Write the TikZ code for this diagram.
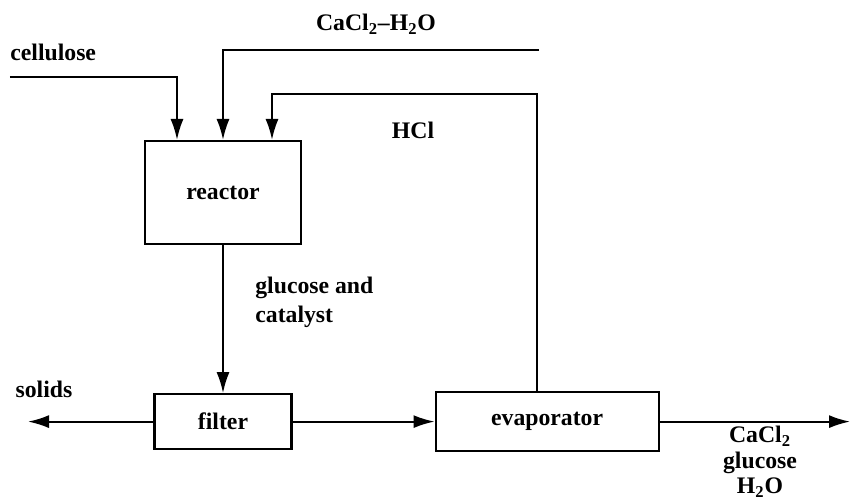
\documentclass[tikz,border=0pt]{standalone}
\usepackage{fontspec}
\setmainfont{Liberation Serif}
\usetikzlibrary{positioning,arrows.meta}

\begin{document}
\begin{tikzpicture}[
    unit/.style={rectangle, draw=black, line width=1.2pt,
                 font=\bfseries\fontsize{13.5}{16}\selectfont},
    lbl/.style={inner sep=0pt, font=\bfseries\fontsize{13.5}{16.5}\selectfont},
    flow/.style={-{Latex[length=0.42cm, width=0.26cm]}, line width=1.1pt},
]
    \useasboundingbox (0,0) rectangle (17.06,10.06);

    \node[unit, minimum width=3.12cm, minimum height=2.06cm] (reactor) at (4.46,6.21) {reactor};
    \node[unit, minimum width=2.74cm, minimum height=1.1cm, below=2.96cm of reactor] (filter) {filter};
    \node[unit, minimum width=4.46cm, minimum height=1.18cm, right=2.84cm of filter] (evap) {evaporator};

    \coordinate (cellin) at (0.2,8.52);
    \coordinate (caclin) at (10.78,9.06);
    \coordinate (hclturn) at (10.74,8.18);
    \coordinate (solidsout) at (0.56,1.67);
    \coordinate (prodout) at (17.0,1.67);

    \draw[flow] (cellin) -| ([xshift=-0.92cm]reactor.north);
    \draw[flow] (caclin) -| (reactor.north);
    \draw[flow] (evap.north -| hclturn) -- (hclturn) -| ([xshift=0.98cm]reactor.north);
    \draw[flow] (reactor) -- (filter);
    \draw[flow] (filter) -- (evap);
    \draw[flow] (filter.west) -- (filter.west -| solidsout);
    \draw[flow] (evap.east) -- (evap.east -| prodout);

    \node[lbl, anchor=west] (cellulose) at (0.2,9.02) {cellulose};
    \node[lbl] (cacl) at (7.52,9.58) {CaCl\textsubscript{2}--H\textsubscript{2}O};
    \node[lbl] (hcl) at (8.26,7.46) {HCl};
    \node[lbl, anchor=west, align=left] (glucat) at (5.1,4.02) {glucose and\\catalyst};
    \node[lbl] (solids) at (0.88,2.28) {solids};
    \node[lbl, align=center, font=\bfseries\fontsize{13.5}{14.5}\selectfont] (prod) at (15.2,0.82)
        {CaCl\textsubscript{2}\\glucose\\H\textsubscript{2}O};
\end{tikzpicture}
\end{document}
